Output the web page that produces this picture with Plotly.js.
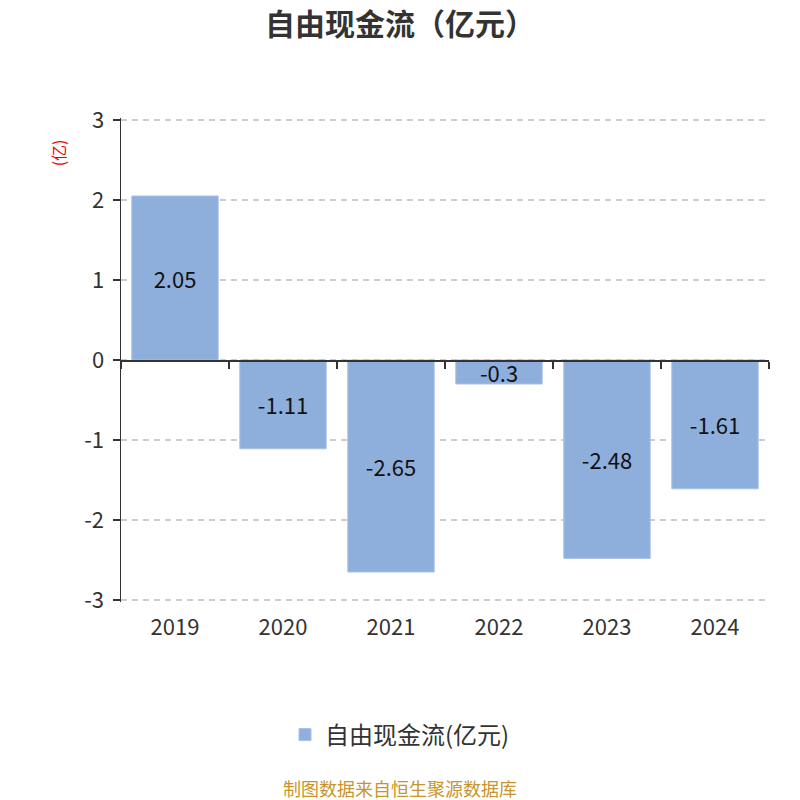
<!DOCTYPE html>
<html>
<head>
<meta charset="utf-8">
<script src="https://cdn.plot.ly/plotly-3.0.1.min.js"></script>
<style>
  html, body { margin: 0; padding: 0; background: #fff; }
  #chart { width: 800px; height: 800px; }
</style>
</head>
<body>
<div id="chart"></div>
<script>
// values
const years = ['2019', '2020', '2021', '2022', '2023', '2024'];
const fcf = [2.05, -1.11, -2.65, -0.3, -2.48, -1.61];
const seriesName = '自由现金流(亿元)';
const yTicks = [-3, -2, -1, 0, 1, 2, 3];
const yTickText = yTicks.map(String);   // plain hyphen, like the original

const font = '"Noto Sans CJK SC", "Noto Sans", sans-serif';

const bars = {
    x: years,
    y: fcf,
    type: 'bar',
    name: seriesName,
    width: 0.8,
    marker: { color: '#8eaedb', line: { color: '#a9c2e6', width: 1 } },
    text: fcf.map(String),
    textposition: 'inside',
    insidetextanchor: 'middle',
    constraintext: 'none',
    cliponaxis: false,
    textfont: { size: 22, color: '#111', family: font },
    hoverinfo: 'x+y'
};

// invisible helper trace so the zero axis line with boundary ticks can be drawn
const boundaries = [];
for (let i = 0; i <= years.length; ++i) boundaries.push(i - 0.5);
const zeroAxis = {
    x: [boundaries[0], boundaries[boundaries.length - 1]],
    y: [0, 0],
    xaxis: 'x2',
    type: 'scatter',
    mode: 'lines',
    line: { width: 0 },
    showlegend: false,
    hoverinfo: 'skip'
};

// plot area: y=3 at 120px, y=-3 at 600px; padded a touch so edge gridlines draw
const pad = 0.025;
const pxPerUnit = 80;
const layout = {
    width: 800,
    height: 800,
    paper_bgcolor: '#fff',
    plot_bgcolor: '#fff',
    margin: { l: 121, r: 31, t: 120 - pad * pxPerUnit, b: 200 - pad * pxPerUnit, autoexpand: false },
    font: { family: font, color: '#333' },
    title: {
        text: '<b>自由现金流（亿元）</b>',
        font: { size: 30, color: '#333', family: font },
        x: 0.5,
        xanchor: 'center',
        yref: 'container',
        y: 1 - 24 / 800,
        yanchor: 'middle'
    },
    xaxis: {
        type: 'category',
        range: [-0.5, 5.5],
        showline: false,
        ticks: '',
        showgrid: false,
        zeroline: false,
        tickfont: { size: 22, color: '#333' },
        ticklabelstandoff: 10
    },
    xaxis2: {
        overlaying: 'x',
        anchor: 'free',
        position: 0.5,
        range: [-0.5, 5.5],
        showline: true,
        linecolor: '#333',
        linewidth: 1.5,
        ticks: 'outside',
        ticklen: 7,
        tickwidth: 1.5,
        tickcolor: '#333',
        tickmode: 'array',
        tickvals: boundaries,
        showticklabels: false,
        showgrid: false,
        zeroline: false
    },
    yaxis: {
        range: [-3 - pad, 3 + pad],
        tickmode: 'array',
        tickvals: yTicks,
        ticktext: yTickText,
        showline: true,
        linecolor: '#333',
        linewidth: 1.5,
        ticks: 'outside',
        ticklen: 7,
        tickwidth: 1.5,
        tickcolor: '#333',
        showgrid: true,
        gridcolor: '#cccccc',
        griddash: '6px,5px',
        gridwidth: 1.5,
        zeroline: false,
        tickfont: { size: 22, color: '#333' },
        ticklabelstandoff: 4
    },
    bargap: 0.2,
    showlegend: true,
    legend: {
        orientation: 'h',
        xref: 'container',
        x: 0.5,
        xanchor: 'center',
        yref: 'container',
        y: 1 - 735 / 800,
        yanchor: 'middle',
        font: { size: 24, color: '#333' }
    },
    annotations: [{
        text: '(亿)',
        textangle: -90,
        xref: 'paper',
        yref: 'paper',
        x: (58 - 121) / 648,
        y: (600 - 155) / 480,
        xanchor: 'center',
        yanchor: 'middle',
        showarrow: false,
        font: { size: 16, color: '#e00' }
    }, {
        text: '制图数据来自恒生聚源数据库',
        xref: 'paper',
        yref: 'paper',
        x: (400 - 121) / 648,
        xanchor: 'center',
        y: (600 - 784) / 480,
        yanchor: 'middle',
        showarrow: false,
        font: { size: 18, color: '#c8952a' }
    }]
};

Plotly.newPlot('chart', [bars, zeroAxis], layout, { displayModeBar: false, staticPlot: true });
</script>
</body>
</html>
